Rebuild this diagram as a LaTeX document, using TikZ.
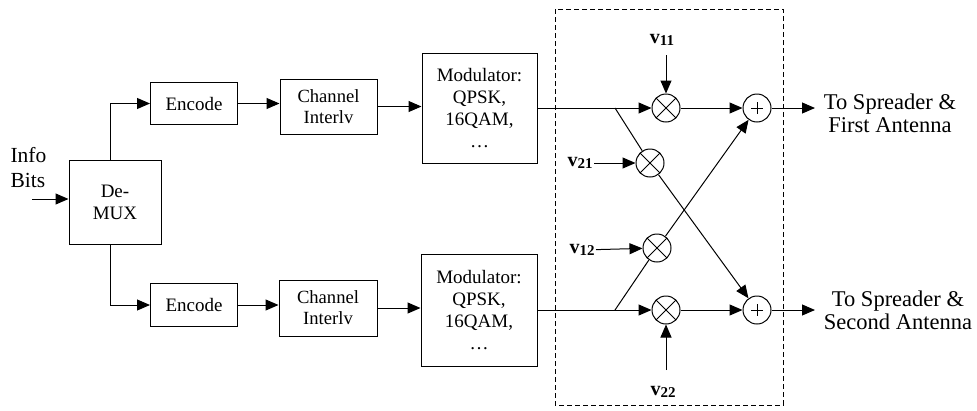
\documentclass[tikz,border=0pt]{standalone}
\usepackage{fontspec}
\setmainfont{Liberation Serif}
\usetikzlibrary{arrows.meta,calc}
\newcommand\vlab[1]{v\raisebox{-0.3ex}{\fontsize{15}{15}\selectfont\bfseries #1}}
\begin{document}
\begin{tikzpicture}[x=1pt,y=-1pt, line width=1pt,
  >={Triangle[length=13pt,width=11pt]},
  blk/.style={draw, line width=1pt, align=center, inner sep=0pt, font=\fontsize{19}{22}\selectfont},
  mult/.style={draw, circle, minimum size=28pt, inner sep=0pt,
    path picture={\draw (path picture bounding box.north west) -- (path picture bounding box.south east)
      (path picture bounding box.north east) -- (path picture bounding box.south west);}},
  addr/.style={draw, circle, minimum size=28pt, inner sep=0pt,
    path picture={\draw ($(path picture bounding box.center)+(-6,0)$) -- ($(path picture bounding box.center)+(6,0)$)
      ($(path picture bounding box.center)+(0,-6)$) -- ($(path picture bounding box.center)+(0,6)$);}},
  vl/.style={inner sep=1pt, font=\fontsize{20}{22}\selectfont\bfseries},
  outl/.style={align=center, font=\fontsize{22.5}{23}\selectfont},
]
\useasboundingbox (0,0) rectangle (977,410);

% left part
\node[align=left, anchor=west, inner sep=0pt, font=\fontsize{21.5}{25}\selectfont] (info) at (10,168) {Info\\Bits};
\coordinate (inp) at (32,199);
\node[blk, minimum width=92pt, minimum height=84pt] (demux) at (115,202) {De-\\MUX};

\node[blk, minimum width=87pt, minimum height=42pt] (enc1) at (194,103.5) {Encode};
\node[blk, minimum width=87pt, minimum height=43pt] (enc2) at (194,305) {Encode};
\node[blk, minimum width=97pt, minimum height=55pt, font=\fontsize{18.6}{21}\selectfont] (ch1) at (328.5,106.5) {Channel\\Interlv};
\node[blk, minimum width=98pt, minimum height=56pt, font=\fontsize{18.6}{21}\selectfont] (ch2) at (328,308) {Channel\\Interlv};
\node[blk, minimum width=115pt, minimum height=110pt] (mod1) at (479.5,108) {Modulator:\\QPSK,\\16QAM,\\\dots};
\node[blk, minimum width=116pt, minimum height=112pt] (mod2) at (479,310) {Modulator:\\QPSK,\\16QAM,\\\dots};

% dashed combiner box
\draw[dash pattern=on 5pt off 3pt] (555,9) rectangle (783,405);

\node[mult] (m11) at (666,108) {};
\node[mult] (m21) at (650,163) {};
\node[mult] (m12) at (657,248) {};
\node[mult] (m22) at (666,310) {};
\node[addr] (p1) at (757,108) {};
\node[addr] (p2) at (757,310) {};

\node[vl] (v11) at (662,40) {\vlab{11}};
\node[vl] (v21) at (580,163) {\vlab{21}};
\node[vl] (v12) at (582,250) {\vlab{12}};
\node[vl] (v22) at (663,392) {\vlab{22}};
\coordinate (v11s) at (666,55);
\coordinate (v22s) at (666,370);

\coordinate (b1) at (615,108);
\coordinate (b2) at (615,310);
\coordinate (o1) at (815,108);
\coordinate (o2) at (815,310);

\node[outl] (out1) at (890,113) {To Spreader \&\\First Antenna};
\node[outl] (out2) at (898,310) {To Spreader \&\\Second Antenna};

% connectors
\draw[->] (inp) -- (inp -| demux.west);
\draw[->] ([xshift=-5pt]demux.north) |- (enc1.west);
\draw[->] ([xshift=-5pt]demux.south) |- (enc2.west);
\draw[->] (enc1.east) -- (enc1.east -| ch1.west);
\draw[->] (enc2.east) -- (enc2.east -| ch2.west);
\draw[->] (ch1.east) -- (ch1.east -| mod1.west);
\draw[->] (ch2.east) -- (ch2.east -| mod2.west);

\draw[->] (mod1.east) -- (m11);
\draw[->] (mod2.east) -- (m22);
\draw (b1) -- (m21);
\draw[->] (m21) -- (p2);
\draw (b2) -- (m12);
\draw[->] (m12) -- (p1);
\draw[->] (m11) -- (p1);
\draw[->] (m22) -- (p2);
\draw[->] (p1) -- (o1);
\draw[->] (p2) -- (o2);

\draw[->] (v11s) -- (m11);
\draw[->] (v22s) -- (m22);
\draw[->] (v21) -- (m21);
\draw[->] (v12) -- (m12);
\end{tikzpicture}
\end{document}
